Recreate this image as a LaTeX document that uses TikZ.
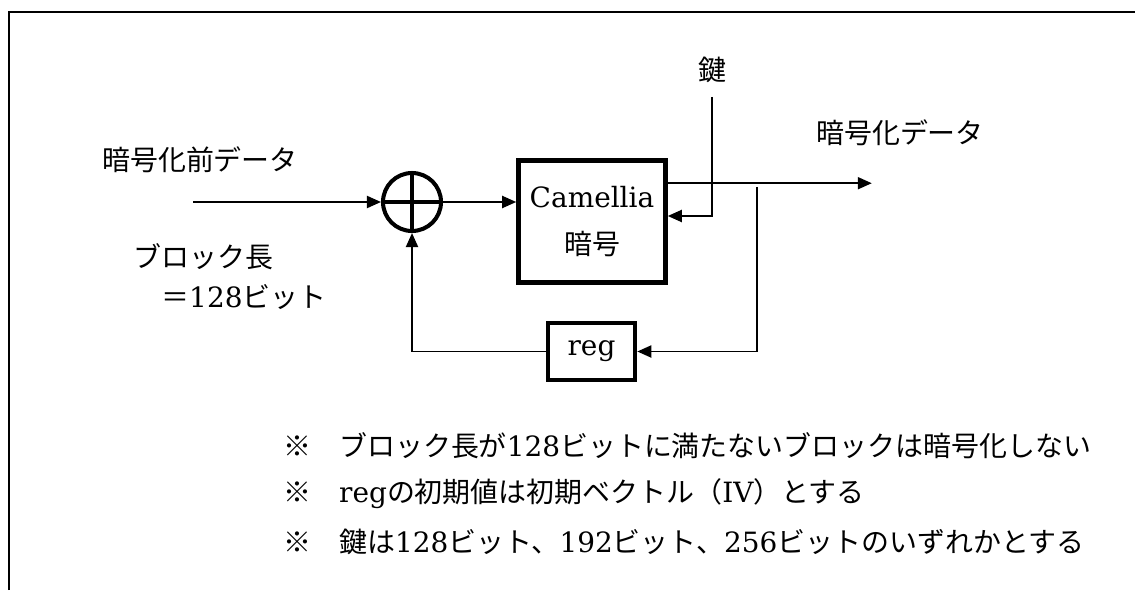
\documentclass[tikz,border=0pt]{standalone}
\usepackage{fontspec}
\usepackage{tikz}
\usetikzlibrary{arrows.meta, calc}
\setmainfont{DejaVu Serif}
\newfontfamily\jpfont{Noto Sans CJK JP}

\begin{document}
\begin{tikzpicture}[x=1cm, y=1cm,
  lbl/.style={font=\fontsize{15.9}{22.8}\selectfont, inner sep=0pt},
  wire/.style={line width=1.1pt},
  flow/.style={wire, -{Triangle[length=0.28cm, width=0.24cm]}},
  blockbox/.style={draw, line width=2.6pt, inner sep=0pt, align=center}]
\useasboundingbox (0,0) rectangle (22.7,11.8);
\draw[line width=1.1pt] (0.18,0) -- (0.18,11.56) -- (22.7,11.56);
% labels
\node[lbl] (lblin) at (4.0,8.6) {\jpfont 暗号化前データ};
\node[lbl, align=left, anchor=west] (lblblock) at (2.66,6.26)
  {{\jpfont ブロック長}\\{\jpfont 　＝}128{\jpfont ビット}};
\node[lbl] (lblkey) at (14.24,10.4) {\jpfont 鍵};
\node[lbl] (lblout) at (18.0,9.14) {\jpfont 暗号化データ};
% blocks
\node[draw, circle, line width=2.3pt, minimum size=1.16cm, inner sep=0pt] (xor) at (8.24,7.76) {};
\draw[line width=2.3pt] (xor.north) -- (xor.south) (xor.west) -- (xor.east);
\node[blockbox, minimum width=2.94cm, minimum height=2.44cm,
  font=\fontsize{15.9}{26.7}\selectfont] (enc) at (11.84,7.37) {Camellia\\{\jpfont 暗号}};
\node[blockbox, minimum width=1.74cm, minimum height=1.14cm,
  font=\fontsize{15.9}{19}\selectfont] (reg) at (11.83,4.77) {reg};
% end points
\coordinate (src) at (3.86,7.76);
\coordinate (keytop) at (14.24,9.86);
\coordinate (dst) at ($(enc.north east)+(4.08,-0.5)$);
\coordinate (tap) at (15.14,8.06);
% connectors
\draw[flow] (src) -- (xor.west);
\draw[flow] (xor.east) -- (xor.east -| enc.west);
\draw[flow] ([yshift=-5mm]enc.north east) -- (dst);
\draw[flow] (keytop) |- ([yshift=1.1mm]enc.east);
\draw[flow] (tap) |- (reg.east);
\draw[flow] (reg.west) -| (xor.south);
% notes
\node[lbl, anchor=west] (note1) at (5.66,2.88)
  {{\jpfont ※　ブロック長が}128{\jpfont ビットに満たないブロックは暗号化しない}};
\node[lbl, anchor=west] (note2) at (5.66,1.92)
  {{\jpfont ※　}reg{\jpfont の初期値は初期ベクトル（}IV{\jpfont ）とする}};
\node[lbl, anchor=west] (note3) at (5.66,0.96)
  {{\jpfont ※　鍵は}128{\jpfont ビット、}192{\jpfont ビット、}256{\jpfont ビットのいずれかとする}};
\end{tikzpicture}
\end{document}
